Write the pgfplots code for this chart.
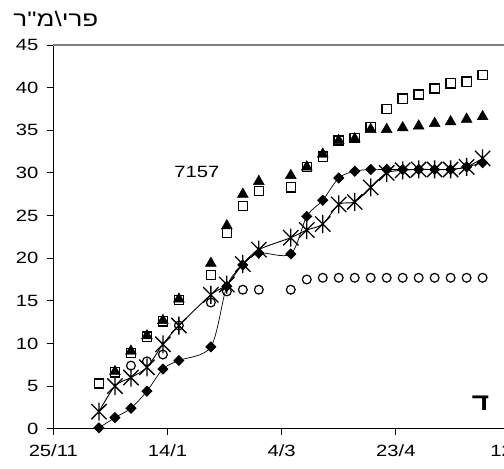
\documentclass[border=0pt]{standalone}
\usepackage{fontspec}
\setmainfont{Liberation Sans}[FakeStretch=1.24]
\newfontfamily\hebfont[FakeStretch=1.24]{Liberation Sans}
\usepackage{pgfplots}
\pgfplotsset{compat=1.18}

% star marker: a cross with a vertical bar
\pgfdeclareplotmark{xstar}{%
  \pgfpathmoveto{\pgfqpoint{0pt}{\pgfplotmarksize}}%
  \pgfpathlineto{\pgfqpoint{0pt}{-\pgfplotmarksize}}%
  \pgfpathmoveto{\pgfqpoint{-.85\pgfplotmarksize}{.85\pgfplotmarksize}}%
  \pgfpathlineto{\pgfqpoint{.85\pgfplotmarksize}{-.85\pgfplotmarksize}}%
  \pgfpathmoveto{\pgfqpoint{-.85\pgfplotmarksize}{-.85\pgfplotmarksize}}%
  \pgfpathlineto{\pgfqpoint{.85\pgfplotmarksize}{.85\pgfplotmarksize}}%
  \pgfusepathqstroke}

% x = days after 25/11
\pgfplotstableread{
d v
20 5.3
27 6.6
34 8.9
41 10.8
48 12.6
55 15.1
69 18.0
76 23.0
83 26.1
90 27.9
104 28.3
111 30.7
118 31.9
125 33.8
132 34.1
139 35.4
146 37.5
153 38.7
160 39.2
167 39.9
174 40.5
181 40.7
188 41.5
}\squares

\pgfplotstableread{
d v
27 6.7
34 9.1
41 10.9
48 12.7
55 15.2
69 19.4
76 23.8
83 27.5
90 29.0
104 29.7
111 30.7
118 32.2
125 33.8
132 34.0
139 35.1
146 35.1
153 35.3
160 35.5
167 35.8
174 36.0
181 36.3
188 36.6
}\triangles

\pgfplotstableread{
d v
20 0.1
27 1.3
34 2.4
41 4.4
48 7.0
55 8.0
69 9.6
76 16.7
83 19.2
90 20.6
104 20.5
111 24.9
118 26.8
125 29.4
132 30.2
139 30.4
146 30.4
153 30.4
160 30.4
167 30.4
174 30.4
181 30.7
188 31.2
}\diamonds

\pgfplotstableread{
d v
20 2.0
27 5.0
34 6.0
41 7.2
48 9.9
55 12.1
69 15.7
76 16.9
83 19.3
90 21.0
104 22.4
111 23.3
118 24.0
125 26.3
132 26.6
139 28.3
146 30.0
153 30.3
160 30.4
167 30.4
174 30.4
181 30.7
188 31.7
}\stars

\pgfplotstableread{
d v
34 7.4
41 7.9
48 8.7
55 12.1
69 14.8
76 16.1
83 16.3
90 16.3
104 16.3
111 17.5
118 17.7
125 17.7
132 17.7
139 17.7
146 17.7
153 17.7
160 17.7
167 17.7
174 17.7
181 17.7
188 17.7
}\circles

\begin{document}
\begin{tikzpicture}
\begin{axis}[
  scale only axis, width=456.7pt, height=383.7pt,
  xmin=0, xmax=200, ymin=0, ymax=45,
  axis x line*=bottom, axis y line*=left,
  axis line style={line width=1.2pt},
  xtick={0,50,100,150,200},
  xticklabels={25/11,14/1,4/3,23/4,12/6},
  ytick={0,5,...,45},
  tick align=outside, major tick length=6.5pt,
  tick style={black, line width=1pt},
  font=\fontsize{16.3}{18}\selectfont,
  /pgf/number format/assume math mode=true,
  xticklabel style={yshift=-6pt},
  yticklabel style={xshift=-5pt},
  clip=false,
]
\coordinate (ll) at (rel axis cs:0,0);
\coordinate (ur) at (rel axis cs:1,1);
\draw[black!50, line width=1.4pt] (rel axis cs:0,1) -- (rel axis cs:1,1);

\addplot[only marks, mark=square, mark size=4.6pt, line width=1.3pt] table {\squares};
\addplot[only marks, mark=triangle*, mark size=6.3pt] table {\triangles};
\addplot[only marks, mark=o, mark size=4.4pt, line width=1.2pt] table {\circles};
\addplot[smooth, line width=0.7pt, mark=square*, mark size=3.6pt,
  mark options={rotate=45}] table {\diamonds};
\addplot[smooth, line width=0.9pt, mark=xstar, mark size=9pt,
  mark options={line width=1.3pt}] table {\stars};

\node[anchor=center] at (axis cs:62.9,30.1) {7157};
\node[anchor=center, inner sep=0pt] at (axis cs:187.1,3.0)
  {\hebfont\bfseries\fontsize{24}{26}\selectfont ד};
% glyphs listed in the order they appear on the page
\node[anchor=base west, inner sep=0pt] at ([xshift=-40pt,yshift=18.5pt]rel axis cs:0,1)
  {\hebfont\fontsize{21}{23}\selectfont\mbox{ר}"\mbox{מ}\textbackslash\mbox{י}\mbox{ר}\mbox{פ}};
\end{axis}
\pgfresetboundingbox
\path[use as bounding box] ([xshift=-53.3pt,yshift=-40.3pt]ll) rectangle ([xshift=-6pt,yshift=45pt]ur);
\end{tikzpicture}
\end{document}
